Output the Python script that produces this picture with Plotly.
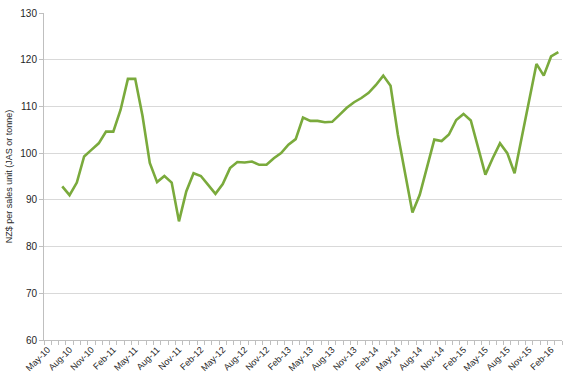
import plotly.graph_objects as go

months = ["May-10","Jun-10","Jul-10","Aug-10","Sep-10","Oct-10","Nov-10","Dec-10",
          "Jan-11","Feb-11","Mar-11","Apr-11","May-11","Jun-11","Jul-11","Aug-11","Sep-11","Oct-11","Nov-11","Dec-11",
          "Jan-12","Feb-12","Mar-12","Apr-12","May-12","Jun-12","Jul-12","Aug-12","Sep-12","Oct-12","Nov-12","Dec-12",
          "Jan-13","Feb-13","Mar-13","Apr-13","May-13","Jun-13","Jul-13","Aug-13","Sep-13","Oct-13","Nov-13","Dec-13",
          "Jan-14","Feb-14","Mar-14","Apr-14","May-14","Jun-14","Jul-14","Aug-14","Sep-14","Oct-14","Nov-14","Dec-14",
          "Jan-15","Feb-15","Mar-15","Apr-15","May-15","Jun-15","Jul-15","Aug-15","Sep-15","Oct-15","Nov-15","Dec-15",
          "Jan-16","Feb-16","Mar-16"]

prices = [None, None,
          92.9, 91.0, 93.7, 99.3, 100.7, 102.1,
          104.6, 104.6, 109.3, 115.9, 115.9, 108.0, 97.9, 93.8, 95.1, 93.7, 85.4, 91.8,
          95.7, 95.1, 93.2, 91.3, 93.4, 96.8, 98.1, 98.0, 98.2, 97.5, 97.5, 98.9,
          100.0, 101.8, 103.0, 107.6, 106.9, 106.9, 106.6, 106.7, 108.2, 109.7, 110.9, 111.8,
          112.9, 114.6, 116.6, 114.4, 104.0, 95.5, 87.3, 91.1, 97.3, 102.9, 102.6, 104.0,
          107.1, 108.4, 107.0, 101.0, 95.4, 98.9, 102.1, 100.0, 95.7, 103.5, 111.3, 119.1,
          116.6, 120.7, 121.6]

label_every = 3
tick_idx = list(range(0, len(months), label_every))
tick_txt = [months[i] for i in tick_idx]
x_idx = list(range(len(months)))

fig = go.Figure()
fig.add_trace(go.Scatter(
    x=x_idx, y=prices, mode="lines",
    line=dict(color="#7aaa3c", width=2.6),
    connectgaps=False, hoverinfo="skip", showlegend=False,
))

font_family = "Liberation Sans, Arial, sans-serif"
fig.update_layout(
    width=570, height=384,
    margin=dict(l=44, r=8, t=13, b=44),
    paper_bgcolor="white", plot_bgcolor="white",
    font=dict(family=font_family, size=10, color="#1f1f1f"),
    xaxis=dict(
        range=[-0.5, len(months) - 0.5],
        tickmode="array", tickvals=tick_idx, ticktext=tick_txt,
        tickangle=-45, tickfont=dict(size=9, color="#1f1f1f"),
        ticks="", showgrid=False, zeroline=False,
        showline=True, linecolor="#bfbfbf", linewidth=1,
        minor=dict(tickmode="linear", tick0=-0.5, dtick=1, ticks="outside",
                   ticklen=4, tickcolor="#bfbfbf", tickwidth=1, showgrid=False),
        automargin=False, fixedrange=True,
    ),
    yaxis=dict(
        range=[60, 130], dtick=10, tick0=60,
        tickfont=dict(size=10, color="#1f1f1f"),
        showgrid=True, gridcolor="#d9d9d9", gridwidth=1,
        zeroline=False, showline=True, linecolor="#bfbfbf", linewidth=1,
        ticks="outside", ticklen=4, tickcolor="#bfbfbf",
        title=dict(text="NZ$ per sales unit (JAS or tonne)", font=dict(size=9, color="#1f1f1f"), standoff=6),
        automargin=False, fixedrange=True,
    ),
)

fig.write_html("out.html", config={"displayModeBar": False},
               post_script="document.body.style.margin='0';document.body.style.padding='0';")
